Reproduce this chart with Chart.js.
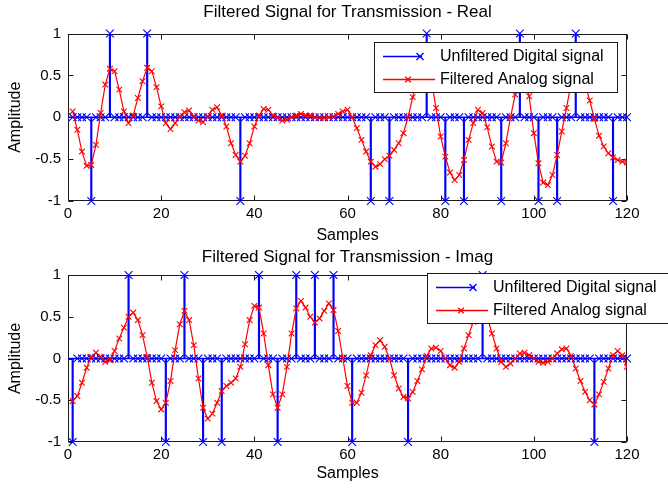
<!DOCTYPE html>
<html><head><meta charset="utf-8">
<script src="https://cdn.jsdelivr.net/npm/chart.js@4/dist/chart.umd.min.js"></script>
<style>html,body{margin:0;padding:0;background:#fff;overflow:hidden}canvas{display:block}</style>
</head><body>
<canvas id="c1" width="668" height="244"></canvas>
<canvas id="c2" width="668" height="244"></canvas>
<script>
// ---------- data ----------
const samples = Array.from({length: 120}, (_, i) => i + 1);
const symbolIndex = [1,5,9,13,17,21,25,29,33,37,41,45,49,53,57,61,65,69,73,77,81,85,89,93,97,101,105,109,113,117];
const symbolReal  = [0,-1,1,0,1,0,0,0,0,-1,0,0,0,0,0,0,-1,-1,0,1,-1,-1,0,-1,1,-1,-1,1,0,-1];
const symbolImag  = [-1,0,0,1,0,-1,1,-1,-1,0,1,-1,1,1,1,-1,0,0,-1,0,0,0,1,0,0,0,0,0,-1,0];
const filteredReal = [
  0.07,-0.15,-0.41,-0.58,-0.57,-0.33,0.05,0.39,0.58,0.55,
  0.33,0.07,-0.07,0.02,0.23,0.43,0.59,0.55,0.36,0.13,
  -0.07,-0.14,-0.07,0.01,0.06,0.08,0.01,-0.04,-0.06,0.01,
  0.09,0.12,0.02,-0.11,-0.31,-0.45,-0.53,-0.46,-0.31,-0.11,
  0.02,0.10,0.09,0.02,-0.01,-0.04,-0.03,0.00,0.02,0.04,
  0.02,0.02,0.00,-0.01,-0.01,0.00,0.01,0.04,0.07,0.09,
  0.00,-0.13,-0.27,-0.41,-0.53,-0.59,-0.56,-0.50,-0.46,-0.39,
  -0.31,-0.19,0.00,0.24,0.48,0.64,0.66,0.45,0.11,-0.23,
  -0.47,-0.66,-0.75,-0.69,-0.51,-0.27,-0.07,0.09,0.05,-0.12,
  -0.35,-0.53,-0.54,-0.31,0.00,0.27,0.55,0.55,0.25,-0.19,
  -0.55,-0.78,-0.81,-0.69,-0.45,-0.17,0.11,0.40,0.62,0.60,
  0.40,0.20,-0.02,-0.22,-0.35,-0.43,-0.48,-0.51,-0.53,-0.54
];
const filteredImag = [
  -0.51,-0.45,-0.29,-0.11,0.02,0.07,0.02,-0.04,-0.02,0.09,
  0.24,0.37,0.50,0.55,0.46,0.28,0.02,-0.29,-0.51,-0.61,
  -0.53,-0.27,0.10,0.41,0.57,0.46,0.16,-0.24,-0.59,-0.72,
  -0.66,-0.53,-0.39,-0.33,-0.29,-0.24,-0.10,0.17,0.46,0.63,
  0.61,0.30,-0.08,-0.43,-0.59,-0.43,-0.10,0.30,0.60,0.69,
  0.61,0.50,0.43,0.48,0.57,0.66,0.58,0.33,0.00,-0.33,
  -0.53,-0.53,-0.41,-0.20,0.04,0.16,0.22,0.14,0.00,-0.20,
  -0.36,-0.46,-0.48,-0.40,-0.27,-0.13,0.03,0.12,0.13,0.09,
  0.00,-0.08,-0.11,-0.04,0.12,0.28,0.44,0.60,0.65,0.50,
  0.30,0.12,-0.04,-0.10,-0.06,0.00,0.06,0.07,0.04,0.00,
  -0.04,-0.05,-0.04,0.00,0.06,0.11,0.12,0.03,-0.12,-0.27,
  -0.40,-0.50,-0.55,-0.43,-0.28,-0.12,0.04,0.09,0.04,-0.10
];
const xTicks = [0,20,40,60,80,100,120];
const yTicks = [-1,-0.5,0,0.5,1];
const titles = ['Filtered Signal for Transmission - Real', 'Filtered Signal for Transmission - Imag'];
const legendLabels = ['Unfiltered Digital signal', 'Filtered Analog signal'];
const xLabel = 'Samples';
const yLabel = 'Amplitude';

// ---------- helpers ----------
const FONT = 'Liberation Sans, Arial, Helvetica, sans-serif';
const BLUE = '#0000ff';
const RED = '#ff0000';

function digitalSeries(symbols) {
  const d = samples.map(() => 0);
  symbolIndex.forEach((n, i) => { d[n - 1] = symbols[i]; });
  return d;
}

function crossRot(ctx, x, y, r) {
  const o = r * Math.SQRT1_2;
  ctx.beginPath();
  ctx.moveTo(x - o, y - o); ctx.lineTo(x + o, y + o);
  ctx.moveTo(x - o, y + o); ctx.lineTo(x + o, y - o);
  ctx.stroke();
}

const boxPlugin = {
  id: 'matlabBox',
  beforeDatasetsDraw(chart, args, opts) {
    const {ctx, chartArea: a, scales: {x, y}} = chart;
    const L = Math.round(a.left) + 0.5, R = Math.round(a.right) - 0.5;
    const T = Math.round(a.top) + 0.5, B = Math.round(a.bottom) - 0.5;
    ctx.save();
    // axes title, centred over the axes box
    ctx.fillStyle = '#000';
    ctx.font = '17px ' + FONT;
    ctx.textAlign = 'center';
    ctx.textBaseline = 'middle';
    ctx.fillText(opts.title, (a.left + a.right) / 2, opts.titleY);
    ctx.strokeStyle = '#1a1a1a';
    ctx.lineWidth = 1;
    ctx.strokeRect(L, T, R - L, B - T);
    ctx.beginPath();
    xTicks.forEach(v => {
      const p = Math.round(x.getPixelForValue(v)) + 0.5;
      ctx.moveTo(p, B); ctx.lineTo(p, B - 5);
      ctx.moveTo(p, T); ctx.lineTo(p, T + 5);
    });
    yTicks.forEach(v => {
      const p = Math.round(y.getPixelForValue(v)) + 0.5;
      ctx.moveTo(L, p); ctx.lineTo(L + 5, p);
      ctx.moveTo(R, p); ctx.lineTo(R - 5, p);
    });
    ctx.stroke();
    ctx.restore();
  }
};

const legendPlugin = {
  id: 'matlabLegend',
  afterDraw(chart, args, opts) {
    const {ctx} = chart;
    const {left, top, width, height} = opts;
    ctx.save();
    ctx.fillStyle = '#fff';
    ctx.fillRect(left, top, width, height);
    ctx.strokeStyle = '#1a1a1a';
    ctx.lineWidth = 1;
    ctx.strokeRect(Math.round(left) + 0.5, Math.round(top) + 0.5, Math.round(width), Math.round(height));
    const rows = [top + 14.5, top + 37.5];
    ctx.lineWidth = 1.3;
    ctx.strokeStyle = BLUE;
    ctx.beginPath(); ctx.moveTo(left + 9, rows[0]); ctx.lineTo(left + 48, rows[0]); ctx.stroke();
    crossRot(ctx, left + 46, rows[0], 5);
    ctx.strokeStyle = RED;
    ctx.beginPath(); ctx.moveTo(left + 9, rows[1]); ctx.lineTo(left + 61, rows[1]); ctx.stroke();
    crossRot(ctx, left + 34, rows[1], 4);
    ctx.fillStyle = '#000';
    ctx.font = '16px ' + FONT;
    ctx.textBaseline = 'middle';
    ctx.textAlign = 'left';
    ctx.fillText(legendLabels[0], left + 66, rows[0]);
    ctx.fillText(legendLabels[1], left + 66, rows[1]);
    ctx.restore();
  }
};

function makeChart(id, title, symbols, filtered, L) {
  const digital = digitalSeries(symbols);
  const digitalPts = samples.map((n, i) => ({x: n, y: digital[i]}));
  const stemPts = digitalPts.filter(p => p.y !== 0);
  const redPts = samples.map((n, i) => ({x: n, y: filtered[i]}));
  return new Chart(document.getElementById(id), {
    type: 'line',
    data: {
      datasets: [
        { type: 'line', data: redPts, borderColor: RED, borderWidth: 1.2, tension: 0, fill: false,
          pointStyle: 'crossRot', pointRadius: 4, pointBorderColor: RED, pointBorderWidth: 1.1,
          pointBackgroundColor: RED },
        { type: 'line', data: digitalPts, showLine: false, clip: false,
          pointStyle: 'crossRot', pointRadius: 5.5, pointBorderColor: BLUE, pointBorderWidth: 1.1,
          borderColor: BLUE },
        { type: 'line', data: [{x: xTicks[0], y: 0}, {x: xTicks[xTicks.length - 1], y: 0}],
          borderColor: BLUE, borderWidth: 1.3, pointRadius: 0 },
        { type: 'bar', data: stemPts, backgroundColor: BLUE, barThickness: 1.5, borderWidth: 0 }
      ]
    },
    options: {
      responsive: false,
      animation: false,
      events: [],
      layout: { padding: { left: 0, right: 41, top: L.top, bottom: 0 } },
      plugins: {
        legend: { display: false },
        tooltip: { enabled: false },
        title: { display: false },
        matlabBox: { title: title, titleY: L.titleY },
        matlabLegend: L.legend
      },
      scales: {
        x: {
          type: 'linear', min: xTicks[0], max: xTicks[xTicks.length - 1], offset: false,
          grid: { display: false, drawTicks: false },
          border: { display: false },
          ticks: { stepSize: 20, color: '#000', padding: 4, maxRotation: 0, autoSkip: false,
            font: { family: FONT, size: 15 } },
          title: { display: true, text: xLabel, color: '#000', font: { family: FONT, size: 16 },
            padding: { top: 0, bottom: L.xTitleBottom } },
          afterFit: s => { s.height = L.xHeight; }
        },
        y: {
          type: 'linear', min: -1, max: 1,
          grid: { display: false, drawTicks: false },
          border: { display: false },
          ticks: { stepSize: 0.5, color: '#000', padding: 7,
            font: { family: FONT, size: 15 },
            callback: v => String(Math.round(v * 10) / 10) },
          title: { display: true, text: yLabel, color: '#000', font: { family: FONT, size: 16 },
            padding: { top: 6.4, bottom: 0 } },
          afterFit: s => { s.width = 68; }
        }
      }
    },
    plugins: [boxPlugin, legendPlugin]
  });
}

makeChart('c1', titles[0], symbolReal, filteredReal, {
  top: 33.5, titleY: 12, xHeight: 43, xTitleBottom: -1.5,
  legend: { left: 374, top: 42, width: 243, height: 50 }
});
makeChart('c2', titles[1], symbolImag, filteredImag, {
  top: 31, titleY: 13, xHeight: 46, xTitleBottom: 4.4,
  legend: { left: 427, top: 29, width: 250, height: 50 }
});
</script>
</body></html>
